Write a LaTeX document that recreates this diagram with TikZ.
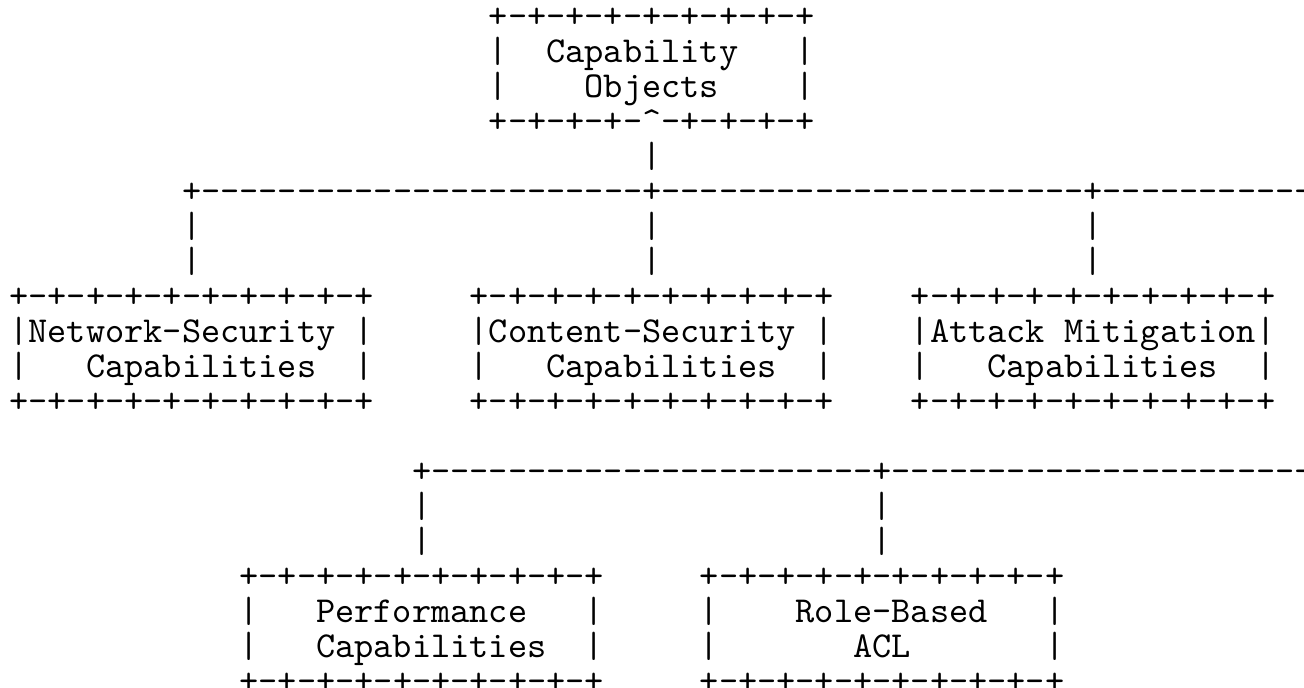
\documentclass[tikz,border=0pt]{standalone}
\usepackage{fontspec}
\setmonofont{lmmono10-regular.otf}
\usepackage{tikz}

% four text rows of one ascii box, stacked on a fixed line pitch
\newcommand{\asciibox}[4]{\vtop{\baselineskip=17.5pt\lineskiplimit=-1000pt\lineskip=0pt
  \hbox{#1}\hbox{#2}\hbox{#3}\hbox{#4}}}
\newcommand{\twobar}{\vtop{\baselineskip=17.5pt\lineskiplimit=-1000pt\lineskip=0pt
  \hbox{|}\hbox{|}}}
\newcommand{\boxedge}{+-+-+-+-+-+-+-+-+-+}
\newcommand{\dashrun}[1]{\foreach \i in {1,...,#1}{-}}

\begin{document}
\begin{tikzpicture}[x=9.59pt, y=-17.5pt,
		ascii/.style={anchor=base west, inner sep=0pt, outer sep=0pt,
			font=\ttfamily\fontsize{18.27}{17.5}\selectfont}]
		\useasboundingbox (-0.49,-0.8) rectangle (67.5,18.857);
		%%
		\node[ascii] (objects) at (25,0) {\asciibox{+-+-+-+-+-+-+-+-+}{|~~Capability~~~|}{|~~~~Objects~~~~|}{+-+-+-+-\textasciicircum-+-+-+-+}};
		\node[ascii] (stemtop) at (33,4) {|};
		\node[ascii] (busone) at (9,5) {+\dashrun{23}+\dashrun{22}+\dashrun{11}};
		\node[ascii] (stemnet) at (9,6) {\twobar};
		\node[ascii] (stemcontent) at (33,6) {\twobar};
		\node[ascii] (stemattack) at (56,6) {\twobar};
		%%
		\node[ascii] (network) at (0,8) {\asciibox{\boxedge}{|Network-Security~|}{|~~~Capabilities~~|}{\boxedge}};
		\node[ascii] (content) at (24,8) {\asciibox{\boxedge}{|Content-Security~|}{|~~~Capabilities~~|}{\boxedge}};
		\node[ascii] (attack) at (47,8) {\asciibox{\boxedge}{|Attack~Mitigation|}{|~~~Capabilities~~|}{\boxedge}};
		%%
		\node[ascii] (bustwo) at (21,13) {+\dashrun{23}+\dashrun{22}};
		\node[ascii] (stemperf) at (21,14) {\twobar};
		\node[ascii] (stemrole) at (45,14) {\twobar};
		%%
		\node[ascii] (performance) at (12,16) {\asciibox{\boxedge}{|~~~Performance~~~|}{|~~~Capabilities~~|}{\boxedge}};
		\node[ascii] (rolebased) at (36,16) {\asciibox{\boxedge}{|~~~~Role-Based~~~|}{|~~~~~~~ACL~~~~~~~|}{\boxedge}};
	\end{tikzpicture}
\end{document}
